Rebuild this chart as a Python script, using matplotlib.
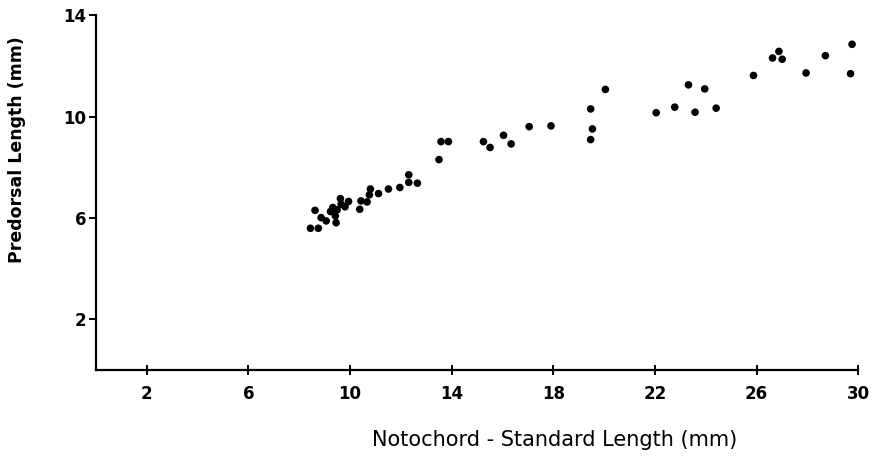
import matplotlib
matplotlib.use("Agg")
import matplotlib.pyplot as plt
import numpy as np

# notochord / standard length (mm) and predorsal length (mm)
sl = [8.44, 8.75, 8.62, 8.86, 9.06, 9.23, 9.32, 9.45, 9.42, 9.49,
      9.62, 9.65, 9.80, 9.94, 10.38, 10.43, 10.67, 10.76, 10.80, 11.12,
      11.51, 11.96, 12.31, 12.31, 12.65, 13.50, 13.58, 13.87, 15.25, 15.51,
      16.04, 16.34, 17.05, 17.91, 19.47, 19.54, 19.47, 20.05, 22.05, 22.78,
      23.32, 23.58, 23.96, 24.41, 25.88, 26.63, 26.88, 27.01, 27.95, 28.71,
      29.76, 29.70]
pdl = [5.59, 5.59, 6.30, 6.01, 5.88, 6.25, 6.41, 5.81, 6.08, 6.32,
       6.76, 6.54, 6.44, 6.65, 6.34, 6.67, 6.63, 6.91, 7.14, 6.96,
       7.14, 7.20, 7.40, 7.70, 7.37, 8.30, 9.01, 9.01, 9.01, 8.78,
       9.26, 8.92, 9.60, 9.63, 10.30, 9.51, 9.09, 11.07, 10.15, 10.37,
       11.25, 10.17, 11.09, 10.33, 11.62, 12.31, 12.57, 12.26, 11.72, 12.40,
       12.85, 11.69]

xticks = [2, 6, 10, 14, 18, 22, 26, 30]
yticks = [2, 6, 10, 14]

fig = plt.figure(figsize=(8.73, 4.59), dpi=100)
ax = fig.add_axes([0.110, 0.194, 0.873, 0.773])

ax.scatter(sl, pdl, s=30, color="black", edgecolors="none", zorder=3)

ax.set_xlim(0, 30)
ax.set_ylim(0, 14)
ax.set_xticks(xticks)
ax.set_yticks(yticks)
ax.set_xticklabels([str(t) for t in xticks], fontweight="bold", fontsize=12)
ax.set_yticklabels([str(t) for t in yticks], fontweight="bold", fontsize=12)

for s in ["top", "right"]:
    ax.spines[s].set_visible(False)
for s in ["left", "bottom"]:
    ax.spines[s].set_linewidth(1.6)
    ax.spines[s].set_color("black")

ax.tick_params(axis="x", direction="inout", length=7, width=1.4, pad=7)
ax.tick_params(axis="y", direction="out", length=5, width=1.4, pad=2)

ax.set_xlabel("Notochord - Standard Length (mm)", fontsize=15)
ax.xaxis.set_label_coords(0.602, -0.17)
ax.set_ylabel("Predorsal Length (mm)", fontsize=12.5, fontweight="bold")
ax.yaxis.set_label_coords(-0.092, 0.62)

fig.savefig("out.png", dpi=100)
